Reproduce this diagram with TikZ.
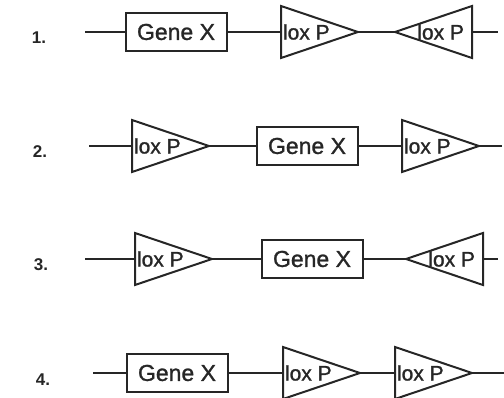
\documentclass[tikz,border=0pt]{standalone}
\usepackage{fontspec}
\setmainfont{Liberation Sans}
\newfontfamily\medfont{Liberation Sans}[FakeBold=1.2]
\usetikzlibrary{shapes.geometric}
\definecolor{ink}{HTML}{262626}

\begin{document}
\begin{tikzpicture}[x=1pt,y=-1pt,line width=2pt,draw=ink,text=ink,
  gene/.style={draw,rectangle,minimum width=101pt,minimum height=38pt,inner sep=0pt,outer sep=0pt,font=\medfont\fontsize{23}{23}\selectfont},
  loxr/.style={draw,isosceles triangle,isosceles triangle stretches,shape border rotate=0,minimum width=52pt,minimum height=77pt,inner sep=0pt,outer sep=0pt,anchor=west},
  loxl/.style={loxr,shape border rotate=180,anchor=east},
  loxtext/.style={font=\medfont\fontsize{21}{21}\selectfont,inner sep=0pt},
  num/.style={font=\fontsize{17}{17}\selectfont\bfseries}]
  \useasboundingbox (0,0) rectangle (504,398);
  % 1
  \node[num] (n1) at (39,38) {1.};
  \coordinate (w1a) at (85,32);
  \node[gene] (g1) at (176,32) {Gene X};
  \node[loxr] (p1a) at (281,32) {};
  \node[loxtext,right=1pt] (t1a) at (p1a.west) {lox P};
  \node[loxl] (p1b) at (472,32) {};
  \node[loxtext,left=7pt] (t1b) at (p1b.east) {lox P};
  \coordinate (w1b) at (498,32);
  \draw (w1a) -- (g1.west) (g1.east) -- (p1a.west) (p1a.apex) -- (p1b.apex) (p1b.east) -- (w1b);
  % 2
  \node[num] (n2) at (40,152) {2.};
  \coordinate (w2a) at (89,146);
  \node[loxr] (p2a) at (132,146) {};
  \node[loxtext,right=1pt] (t2a) at (p2a.west) {lox P};
  \node[gene] (g2) at (307,146) {Gene X};
  \node[loxr] (p2b) at (402,146) {};
  \node[loxtext,right=1pt] (t2b) at (p2b.west) {lox P};
  \coordinate (w2b) at (502,146);
  \draw (w2a) -- (p2a.west) (p2a.apex) -- (g2.west) (g2.east) -- (p2b.west) (p2b.apex) -- (w2b);
  % 3
  \node[num] (n3) at (41,265) {3.};
  \coordinate (w3a) at (85,259);
  \node[loxr] (p3a) at (135,259) {};
  \node[loxtext,right=1pt] (t3a) at (p3a.west) {lox P};
  \node[gene] (g3) at (312,259) {Gene X};
  \node[loxl] (p3b) at (483,259) {};
  \node[loxtext,left=7pt] (t3b) at (p3b.east) {lox P};
  \coordinate (w3b) at (498,259);
  \draw (w3a) -- (p3a.west) (p3a.apex) -- (g3.west) (g3.east) -- (p3b.apex) (p3b.east) -- (w3b);
  % 4
  \node[num] (n4) at (43,380) {4.};
  \coordinate (w4a) at (93,373);
  \node[gene] (g4) at (177,373) {Gene X};
  \node[loxr] (p4a) at (283,373) {};
  \node[loxtext,right=1pt] (t4a) at (p4a.west) {lox P};
  \node[loxr] (p4b) at (395,373) {};
  \node[loxtext,right=1pt] (t4b) at (p4b.west) {lox P};
  \coordinate (w4b) at (504,373);
  \draw (w4a) -- (g4.west) (g4.east) -- (p4a.west) (p4a.apex) -- (p4b.west) (p4b.apex) -- (w4b);
\end{tikzpicture}
\end{document}
